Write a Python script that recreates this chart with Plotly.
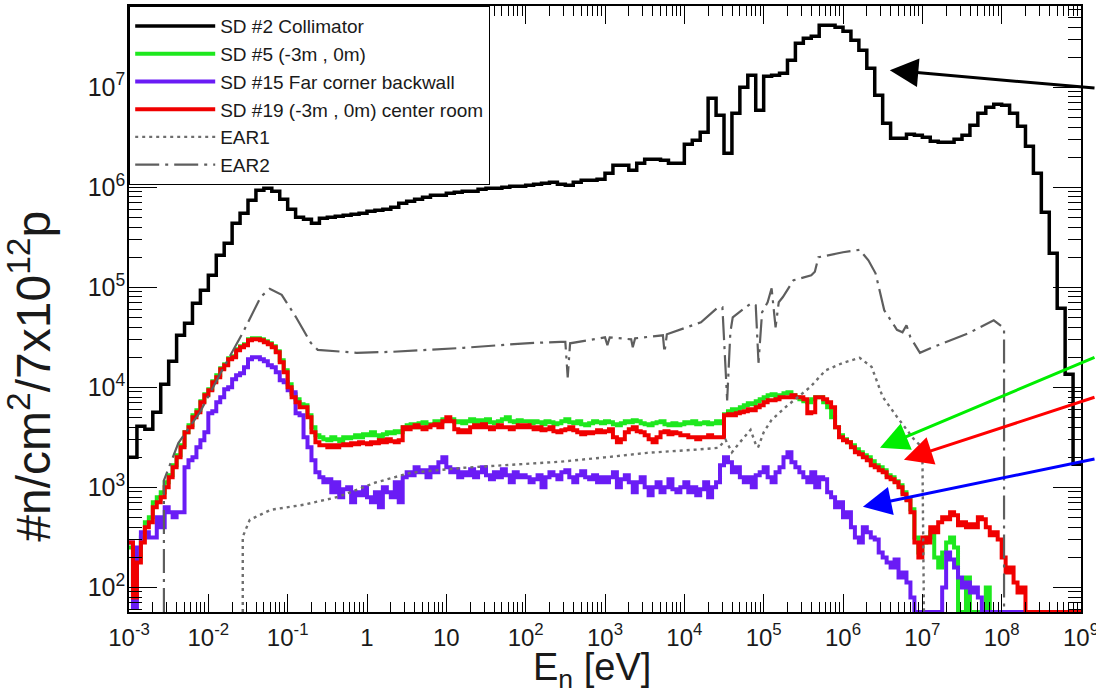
import numpy as np
import plotly.graph_objects as go

# ---------------- axis / binning definitions ----------------
E_MIN_DEC, E_MAX_DEC = -3, 9          # energy axis 1e-3 .. 1e9 eV
COARSE_BINS_PER_DEC = 10              # SD #2 histogram
FINE_BINS_PER_DEC = 20                # SD #5, #15, #19 histograms
Y_LOG_RANGE = [1.754, 7.812]          # flux axis range (log10)
Y_FLOOR = 10 ** Y_LOG_RANGE[0]        # empty bins are drawn on the frame bottom (ROOT style)
_ = None                              # empty bin

x_tick_vals = [10.0 ** k for k in range(-3, 10)]
x_tick_text = ["10<sup>-3</sup>", "10<sup>-2</sup>", "10<sup>-1</sup>", "1", "10",
               "10<sup>2</sup>", "10<sup>3</sup>", "10<sup>4</sup>", "10<sup>5</sup>",
               "10<sup>6</sup>", "10<sup>7</sup>", "10<sup>8</sup>", "10<sup>9</sup>"]
y_tick_vals = [1e2, 1e3, 1e4, 1e5, 1e6, 1e7]
y_tick_text = ["10<sup>2</sup>", "10<sup>3</sup>", "10<sup>4</sup>",
               "10<sup>5</sup>", "10<sup>6</sup>", "10<sup>7</sup>"]

# ---------------- data (log10 of flux per bin) ----------------
sd2_log10 = [
    3.30, 3.61, 3.58, 3.75, 4.03, 4.26, 4.52, 4.64, 4.84, 4.97,
    5.12, 5.32, 5.44, 5.64, 5.74, 5.87, 5.97, 5.99, 5.96, 5.88,
    5.78, 5.70, 5.68, 5.64, 5.69, 5.70, 5.71, 5.72, 5.73, 5.74,
    5.76, 5.77, 5.78, 5.80, 5.84, 5.86, 5.88, 5.90, 5.92, 5.92,
    5.94, 5.95, 5.96, 5.96, 5.98, 5.99, 5.99, 6.00, 6.01, 6.01,
    6.02, 6.03, 6.04, 6.05, 6.03, 6.02, 6.05, 6.07, 6.07, 6.08,
    6.14, 6.22, 6.22, 6.17, 6.24, 6.28, 6.28, 6.27, 6.24, 6.24,
    6.43, 6.47, 6.55, 6.89, 6.72, 6.34, 6.74, 7.00, 7.12, 6.77,
    7.11, 7.12, 7.14, 7.27, 7.44, 7.49, 7.51, 7.62, 7.62, 7.60,
    7.56, 7.47, 7.37, 7.19, 6.92, 6.64, 6.49, 6.49, 6.53, 6.52,
    6.50, 6.46, 6.45, 6.45, 6.48, 6.52, 6.62, 6.74, 6.80, 6.83,
    6.82, 6.74, 6.61, 6.41, 6.14, 5.75, 5.34, 4.79, 4.13, 3.23,
]

sd5_log10 = [
    2.40, 1.90, 2.30, 2.50, 2.65, 2.70, 2.85, 2.90, 2.95, 3.05, 3.12, 3.22, 3.32, 3.42, 3.55, 3.62, 3.72, 3.77, 3.86, 3.93,
    3.98, 4.06, 4.12, 4.19, 4.23, 4.29, 4.31, 4.38, 4.41, 4.43, 4.48, 4.49, 4.49, 4.48, 4.46, 4.44, 4.41, 4.36, 4.27, 4.17,
    4.03, 3.93, 3.88, 3.83, 3.82, 3.72, 3.60, 3.52, 3.50, 3.48, 3.47, 3.50, 3.48, 3.46, 3.50, 3.49, 3.50, 3.52, 3.50, 3.53,
    3.52, 3.55, 3.52, 3.50, 3.53, 3.55, 3.54, 3.56, 3.55, 3.60, 3.62, 3.63, 3.60, 3.64, 3.65, 3.62, 3.63, 3.66, 3.65, 3.68,
    3.67, 3.68, 3.65, 3.66, 3.64, 3.66, 3.68, 3.65, 3.67, 3.66, 3.68, 3.65, 3.64, 3.66, 3.68, 3.70, 3.66, 3.65, 3.67, 3.66,
    3.66, 3.64, 3.66, 3.65, 3.63, 3.66, 3.65, 3.63, 3.64, 3.66, 3.68, 3.65, 3.64, 3.66, 3.63, 3.62, 3.64, 3.66, 3.65, 3.64,
    3.66, 3.65, 3.63, 3.62, 3.64, 3.66, 3.65, 3.67, 3.66, 3.64, 3.63, 3.62, 3.64, 3.65, 3.66, 3.63, 3.62, 3.64, 3.62, 3.63,
    3.65, 3.64, 3.66, 3.63, 3.64, 3.65, 3.63, 3.64, 3.66, 3.64, 3.73, 3.76, 3.78, 3.77, 3.80, 3.82, 3.84, 3.83, 3.86, 3.88,
    3.90, 3.92, 3.93, 3.90, 3.92, 3.94, 3.95, 3.92, 3.90, 3.88, 3.86, 3.85, 3.88, 3.90, 3.90, 3.85, 3.80, 3.70, 3.60, 3.52,
    3.48, 3.45, 3.42, 3.38, 3.35, 3.32, 3.30, 3.26, 3.22, 3.20, 3.17, 3.12, 3.10, 3.06, 3.02, 2.95, 2.88, 2.78, 2.50, 2.35,
    2.45, 2.50, 2.55, 2.30, 2.20, 2.35, 2.45, 2.50, 2.40, _, _, 2.10, _, _, _, _, 2.00, _, _, _,
    _, _, _, _, _, _, _, _, _, _, _, _, _, _, _, _, _, _, _, _,
]

sd15_log10 = [
    2.45, 1.80, 2.40, 2.55, 2.55, 2.50, 2.50, 2.70, 2.60, 2.80, 2.75, 2.70, 2.75, 2.75, 3.20, 3.27, 3.30, 3.40, 3.47, 3.55,
    3.74, 3.76, 3.85, 3.90, 3.98, 4.00, 4.08, 4.12, 4.14, 4.20, 4.28, 4.30, 4.30, 4.28, 4.26, 4.22, 4.20, 4.15, 4.07, 4.05,
    3.97, 3.95, 3.74, 3.72, 3.50, 3.40, 3.27, 3.15, 3.10, 3.05, 3.08, 2.95, 3.05, 2.90, 2.98, 3.00, 2.85, 2.95, 2.92, 3.00,
    2.90, 2.85, 2.95, 2.80, 3.00, 2.95, 2.90, 3.05, 2.85, 3.10, 3.15, 3.12, 3.20, 3.15, 3.17, 3.10, 3.20, 3.15, 3.25, 3.30,
    3.20, 3.15, 3.18, 3.10, 3.15, 3.12, 3.18, 3.10, 3.15, 3.20, 3.12, 3.08, 3.15, 3.10, 3.18, 3.12, 3.05, 3.15, 3.10, 3.12,
    3.10, 3.05, 3.08, 3.12, 3.00, 3.10, 3.15, 3.12, 3.08, 3.15, 3.17, 3.10, 3.05, 3.12, 3.16, 3.10, 3.08, 3.12, 3.05, 3.10,
    3.05, 3.10, 3.15, 3.00, 3.08, 3.12, 3.05, 2.95, 3.05, 3.10, 3.00, 2.92, 3.00, 3.05, 2.95, 3.00, 3.08, 2.98, 2.95, 3.00,
    3.05, 2.95, 3.00, 2.92, 2.98, 3.05, 2.90, 3.00, 3.05, 3.22, 3.30, 3.25, 3.15, 3.20, 3.10, 3.05, 3.10, 3.00, 3.12, 3.15,
    3.20, 3.10, 3.05, 3.15, 3.20, 3.30, 3.35, 3.25, 3.20, 3.15, 3.10, 3.05, 3.15, 3.00, 3.10, 3.08, 2.95, 2.90, 2.80, 2.85,
    2.70, 2.75, 2.60, 2.50, 2.45, 2.60, 2.55, 2.50, 2.48, 2.35, 2.30, 2.25, 2.20, 2.28, 2.10, 2.15, 2.05, 1.90, _, _,
    _, _, _, _, _, 2.00, 2.35, 2.28, 2.20, 2.10, 2.00, 2.05, 1.95, 2.00, 1.90, _, _, _, _, _,
    _, _, _, _, _, _, _, _, _, _, _, _, _, _, _, _, _, _, _, _,
]

sd19_log10 = [
    2.45, 1.90, 2.25, 2.45, 2.60, 2.65, 2.80, 2.85, 2.90, 3.00, 3.10, 3.20, 3.30, 3.40, 3.55, 3.60, 3.70, 3.75, 3.85, 3.92,
    3.97, 4.05, 4.10, 4.18, 4.22, 4.28, 4.30, 4.37, 4.40, 4.42, 4.47, 4.48, 4.48, 4.47, 4.45, 4.43, 4.40, 4.35, 4.25, 4.15,
    4.00, 3.90, 3.85, 3.80, 3.80, 3.70, 3.55, 3.45, 3.42, 3.42, 3.40, 3.42, 3.40, 3.42, 3.43, 3.42, 3.44, 3.43, 3.45, 3.44,
    3.43, 3.45, 3.44, 3.47, 3.45, 3.48, 3.46, 3.45, 3.47, 3.60, 3.58, 3.60, 3.62, 3.60, 3.58, 3.60, 3.62, 3.63, 3.60, 3.66,
    3.70, 3.66, 3.58, 3.55, 3.57, 3.55, 3.60, 3.62, 3.60, 3.63, 3.60, 3.58, 3.60, 3.62, 3.60, 3.60, 3.58, 3.60, 3.62, 3.60,
    3.62, 3.60, 3.58, 3.60, 3.57, 3.58, 3.60, 3.56, 3.55, 3.57, 3.58, 3.60, 3.57, 3.55, 3.53, 3.55, 3.54, 3.55, 3.57, 3.55,
    3.56, 3.58, 3.50, 3.45, 3.48, 3.55, 3.58, 3.60, 3.56, 3.55, 3.52, 3.48, 3.45, 3.50, 3.55, 3.56, 3.53, 3.55, 3.54, 3.52,
    3.52, 3.50, 3.50, 3.48, 3.50, 3.50, 3.52, 3.50, 3.50, 3.50, 3.72, 3.73, 3.72, 3.74, 3.75, 3.76, 3.78, 3.77, 3.80, 3.82,
    3.85, 3.87, 3.87, 3.88, 3.90, 3.90, 3.90, 3.92, 3.90, 3.90, 3.88, 3.74, 3.75, 3.90, 3.90, 3.88, 3.85, 3.80, 3.60, 3.50,
    3.47, 3.45, 3.40, 3.35, 3.33, 3.30, 3.27, 3.22, 3.20, 3.17, 3.15, 3.10, 3.08, 3.05, 3.00, 2.93, 2.87, 2.75, 2.45, 2.30,
    2.50, 2.45, 2.60, 2.55, 2.65, 2.70, 2.68, 2.75, 2.72, 2.62, 2.65, 2.60, 2.63, 2.60, 2.70, 2.68, 2.60, 2.52, 2.55, 2.48,
    2.30, 2.15, 2.20, 2.05, 1.95, 2.00, _, _, _, _, _, _, _, _, _, _, _, _, _, _,
]

# EAR curves: (log10 E, log10 flux) points
ear1_logE = [-1.566, -1.566, -1.478, -1.213, -0.80, -0.356, 0.098, 0.55, 1.22, 1.90, 2.43, 3.0, 3.53,
             4.2, 4.43, 4.52, 4.60, 4.70, 4.835, 4.90, 4.93, 5.0, 5.10, 5.28, 5.59, 5.78, 6.0, 6.21,
             6.36, 6.50, 6.68, 6.90, 7.0, 7.02]
ear1_log10 = [1.754, 2.506, 2.676, 2.776, 2.826, 2.906, 3.046, 3.146, 3.196, 3.226, 3.256, 3.30, 3.345,
              3.38, 3.395, 3.475, 3.35, 3.45, 3.575, 3.43, 3.40, 3.55, 3.675, 3.805, 4.005, 4.17, 4.245, 4.295,
              4.205, 3.905, 3.705, 3.475, 3.40, 1.754]

ear2_logE = [-2.56, -2.56, -2.378, -2.109, -1.844, -1.566, -1.339, -1.226, -1.075, -0.898, -0.709, -0.621,
             -0.13, 0.325, 1.22, 2.0, 2.44, 2.50, 2.53, 2.56, 3.0, 3.03, 3.06, 3.33, 3.35, 3.38, 3.73, 3.75,
             3.78, 4.21, 4.41, 4.48, 4.54, 4.58, 4.61, 4.84, 4.90, 4.935, 4.98, 5.05, 5.10, 5.15, 5.19,
             5.24, 5.376, 5.60, 5.645, 5.69, 6.0, 6.21, 6.32, 6.41, 6.52, 6.68, 6.75, 6.80, 6.85, 6.97,
             7.13, 7.58, 7.90, 8.03, 8.03]
ear2_log10 = [1.754, 3.07, 3.443, 3.746, 4.145, 4.545, 4.905, 4.985, 4.925, 4.705, 4.445, 4.375,
              4.345, 4.355, 4.395, 4.44, 4.455, 4.455, 4.10, 4.44, 4.50, 4.42, 4.50, 4.48, 4.40, 4.49, 4.52, 4.35,
              4.53, 4.65, 4.79, 4.80, 3.87, 4.55, 4.70, 4.84, 4.82, 4.245, 4.75, 4.85, 4.99, 4.60, 4.85,
              4.90, 5.07, 5.12, 5.155, 5.30, 5.35, 5.375, 5.27, 5.14, 4.77, 4.575, 4.55, 4.62, 4.50, 4.345,
              4.40, 4.54, 4.67, 4.59, 1.754]

names = ["SD #2 Collimator", "SD #5 (-3m , 0m)", "SD #15 Far corner backwall",
         "SD #19 (-3m , 0m) center room", "EAR1", "EAR2"]
colors = {"sd2": "#000000", "sd5": "#1ee81e", "sd15": "#6a1cf5", "sd19": "#f00000", "ear": "#6e6e6e"}


def bin_edges(bins_per_dec):
    n = (E_MAX_DEC - E_MIN_DEC) * bins_per_dec
    return np.logspace(E_MIN_DEC, E_MAX_DEC, n + 1)


def step_xy(log_vals, bins_per_dec):
    edges = bin_edges(bins_per_dec)
    vals = [Y_FLOOR if lv is None else max(10.0 ** lv, Y_FLOOR) for lv in log_vals]
    return edges, vals + [vals[-1]]


fig = go.Figure()

hist_specs = [
    (sd2_log10, COARSE_BINS_PER_DEC, names[0], colors["sd2"], 1, 3.5),
    (sd5_log10, FINE_BINS_PER_DEC, names[1], colors["sd5"], 2, 4.0),
    (sd15_log10, FINE_BINS_PER_DEC, names[2], colors["sd15"], 3, 4.0),
    (sd19_log10, FINE_BINS_PER_DEC, names[3], colors["sd19"], 4, 4.0),
]
for vals, bpd, name, col, rank, lw in hist_specs:
    xs, ys = step_xy(vals, bpd)
    fig.add_trace(go.Scatter(x=xs, y=ys, mode="lines", name=name, legendrank=rank,
                             line=dict(color=col, width=lw, shape="hv")))

fig.add_trace(go.Scatter(x=[10.0 ** v for v in ear1_logE], y=[10.0 ** v for v in ear1_log10],
                         mode="lines", name=names[4], legendrank=5,
                         line=dict(color=colors["ear"], width=2.4, dash="3px,4px")))
fig.add_trace(go.Scatter(x=[10.0 ** v for v in ear2_logE], y=[10.0 ** v for v in ear2_log10],
                         mode="lines", name=names[5], legendrank=6,
                         line=dict(color="#5e5e5e", width=2.2, dash="24px,6px,3px,6px")))

FONT = "Liberation Sans, Arial, Helvetica, sans-serif"

minor_x = [m * 10.0 ** k for k in range(-3, 9) for m in range(2, 10)]
minor_y = [m * 10.0 ** k for k in range(1, 8) for m in range(2, 10)]

axis_common = dict(type="log", tickmode="array", ticks="inside", tickwidth=1.2, tickcolor="black",
                   showline=True, linecolor="black", linewidth=1.5, mirror="ticks",
                   showgrid=False, zeroline=False, automargin=False, ticklabeloverflow="allow")
fig.update_xaxes(range=[E_MIN_DEC, E_MAX_DEC], tickvals=x_tick_vals, ticktext=x_tick_text,
                 ticklen=18, tickfont=dict(family=FONT, size=24, color="#1a1a1a"),
                 ticklabelstandoff=3,
                 minor=dict(tickmode="array", tickvals=minor_x, ticks="inside", ticklen=10,
                            tickwidth=1.2, tickcolor="black", showgrid=False),
                 **axis_common)
fig.update_yaxes(range=Y_LOG_RANGE, tickvals=y_tick_vals, ticktext=y_tick_text,
                 ticklen=28, tickfont=dict(family=FONT, size=25, color="#1a1a1a"),
                 ticklabelstandoff=-3,
                 minor=dict(tickmode="array", tickvals=minor_y, ticks="inside", ticklen=13,
                            tickwidth=1.2, tickcolor="black", showgrid=False),
                 **axis_common)

# pointer arrows (tip in data coordinates, tail offset in pixels)
arrows = [
    (6.59, 7.17, 210, 18, "#000000"),
    (6.466, 3.396, 220, -91, "#00ee00"),
    (6.768, 3.276, 196, -63, "#ff0000"),
    (6.251, 2.806, 237, -48, "#0000ff"),
]
annotations = []
for ax_x, ax_y, dx, dy, col in arrows:
    annotations.append(dict(x=ax_x, y=ax_y, xref="x", yref="y", text="", showarrow=True,
                            ax=dx, ay=dy, arrowcolor=col, arrowwidth=3, arrowhead=2,
                            arrowsize=1.9, standoff=0))

annotations.append(dict(text="#n/cm<sup>2</sup>/7x10<sup>12</sup>p", xref="paper", yref="paper",
                        x=-0.104, y=0.39, xanchor="center", yanchor="middle", textangle=-90,
                        showarrow=False, font=dict(family=FONT, size=48, color="#1a1a1a")))
annotations.append(dict(text="E<sub>n</sub> [eV]", xref="paper", yref="paper",
                        x=0.486, y=-0.096, xanchor="center", yanchor="middle",
                        showarrow=False, font=dict(family=FONT, size=38, color="#1a1a1a")))

fig.update_layout(
    template="none",
    width=1096, height=688,
    margin=dict(l=129, r=15, t=6, b=76, autoexpand=False),
    paper_bgcolor="white", plot_bgcolor="white",
    font=dict(family=FONT),
    showlegend=True,
    legend=dict(x=0, y=1, xanchor="left", yanchor="top", bgcolor="white",
                bordercolor="black", borderwidth=1.2,
                font=dict(family=FONT, size=19, color="#1a1a1a"), itemwidth=80,
                tracegroupgap=0),
    annotations=annotations,
)

# remove the default 8px page margin so the figure sits at the window's top-left corner
fig.write_html("out.html", config={"displayModeBar": False},
               post_script="document.body.style.margin='0px';")
